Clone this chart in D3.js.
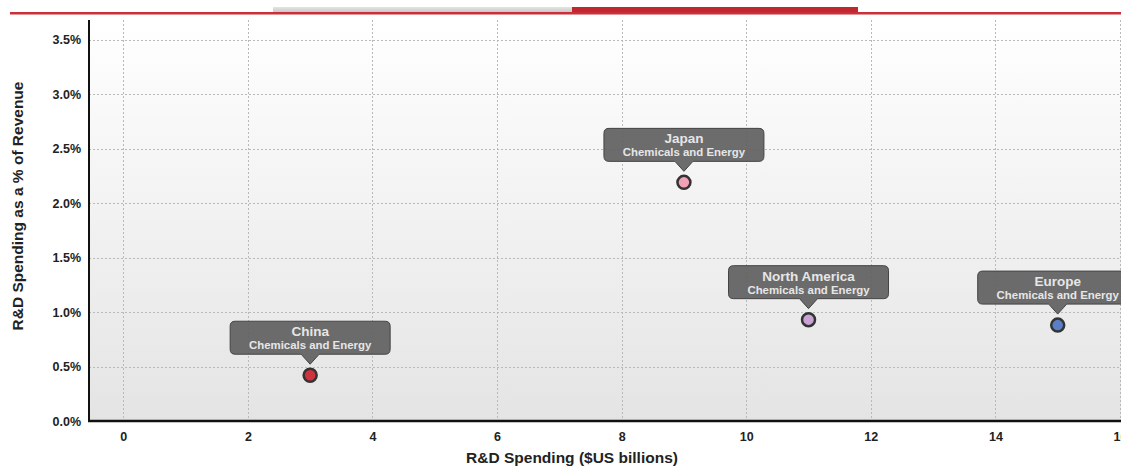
<!DOCTYPE html>
<html>
<head>
<meta charset="utf-8">
<script src="https://cdn.jsdelivr.net/npm/d3@7"></script>
<style>
  html, body { margin: 0; padding: 0; background: #fff; overflow: hidden; }
  svg { display: block; font-family: "Liberation Sans", Arial, sans-serif; }
</style>
</head>
<body>
<svg id="chart" width="1121" height="466"></svg>
<script>
// Regional R&D spending, chemicals and energy sector
const regions   = ["China", "Japan", "North America", "Europe"];
const sectors   = ["Chemicals and Energy", "Chemicals and Energy", "Chemicals and Energy", "Chemicals and Energy"];
const spending  = [3, 9, 11, 15];            // $US billions
const intensity = [0.42, 2.19, 0.93, 0.88];  // % of revenue
const colors    = ["#d0323d", "#f3a1b6", "#c9a3d3", "#5b7fc6"];
const xTicks    = [0, 2, 4, 6, 8, 10, 12, 14, 16];
const yTicks    = [0, 0.5, 1.0, 1.5, 2.0, 2.5, 3.0, 3.5];

const svg = d3.select("#chart");
const W = 1121, H = 466;
const plot = { left: 89, top: 20, right: 1121, bottom: 421 };

const x = d3.scaleLinear().domain([-0.55, 16]).range([plot.left, 1120]);
const y = d3.scaleLinear().domain([0, 3.68]).range([plot.bottom, plot.top]);

const defs = svg.append("defs");
const bg = defs.append("linearGradient").attr("id", "plotBg")
  .attr("x1", 0).attr("y1", 0).attr("x2", 0).attr("y2", 1);
bg.append("stop").attr("offset", "0%").attr("stop-color", "#ffffff");
bg.append("stop").attr("offset", "100%").attr("stop-color", "#e4e4e4");

const tabGrey = defs.append("linearGradient").attr("id", "tabGrey")
  .attr("x1", 0).attr("y1", 0).attr("x2", 0).attr("y2", 1);
tabGrey.append("stop").attr("offset", "0%").attr("stop-color", "#e4e4e4");
tabGrey.append("stop").attr("offset", "100%").attr("stop-color", "#c4c4c4");

// header strip with tabs
svg.append("rect").attr("x", 273).attr("y", 7).attr("width", 299).attr("height", 6)
  .attr("fill", "url(#tabGrey)");
svg.append("rect").attr("x", 572).attr("y", 7).attr("width", 286).attr("height", 7)
  .attr("fill", "#c0272f");
svg.append("rect").attr("x", 10).attr("y", 12).attr("width", W - 10).attr("height", 2.5)
  .attr("fill", "#c8303a");

// plot background
svg.append("rect")
  .attr("x", plot.left).attr("y", plot.top)
  .attr("width", plot.right - plot.left).attr("height", plot.bottom - plot.top)
  .attr("fill", "url(#plotBg)");

// grid
const grid = svg.append("g").attr("stroke", "#b9b9b9").attr("stroke-width", 1)
  .attr("stroke-dasharray", "2,2").attr("shape-rendering", "crispEdges");
grid.selectAll("line.h").data(yTicks.filter(d => d > 0)).join("line")
  .attr("class", "h")
  .attr("x1", plot.left).attr("x2", plot.right)
  .attr("y1", d => Math.round(y(d)) + 0.5).attr("y2", d => Math.round(y(d)) + 0.5);
grid.selectAll("line.v").data(xTicks).join("line")
  .attr("class", "v")
  .attr("x1", d => Math.round(x(d)) + 0.5).attr("x2", d => Math.round(x(d)) + 0.5)
  .attr("y1", plot.top).attr("y2", plot.bottom);

// axes
const tickFont = 12.5;
const yAxis = d3.axisLeft(y).tickValues(yTicks).tickSize(0).tickPadding(8)
  .tickFormat(d => d3.format(".1f")(d) + "%");
const gy = svg.append("g").attr("transform", `translate(${plot.left},0)`).call(yAxis);
gy.select(".domain").remove();
gy.selectAll("text").attr("font-size", tickFont).attr("font-weight", "bold").attr("fill", "#222")
  .attr("font-family", "'Liberation Sans', Arial, sans-serif");

const xAxis = d3.axisBottom(x).tickValues(xTicks).tickSize(0).tickPadding(11);
const gx = svg.append("g").attr("transform", `translate(0,${plot.bottom})`).call(xAxis);
gx.select(".domain").remove();
gx.selectAll("text").attr("font-size", tickFont).attr("font-weight", "bold").attr("fill", "#222")
  .attr("font-family", "'Liberation Sans', Arial, sans-serif");

svg.append("line").attr("x1", plot.left).attr("x2", plot.left)
  .attr("y1", plot.top).attr("y2", plot.bottom + 1)
  .attr("stroke", "#111").attr("stroke-width", 2);
svg.append("line").attr("x1", plot.left - 1).attr("x2", plot.right)
  .attr("y1", plot.bottom).attr("y2", plot.bottom)
  .attr("stroke", "#111").attr("stroke-width", 2.5);

// axis titles
svg.append("text").attr("x", 572).attr("y", 463).attr("text-anchor", "middle")
  .attr("font-size", 15.5).attr("font-weight", "bold").attr("fill", "#222")
  .text("R&D Spending ($US billions)");
svg.append("text").attr("transform", "translate(23,206) rotate(-90)")
  .attr("text-anchor", "middle")
  .attr("font-size", 15.5).attr("font-weight", "bold").attr("fill", "#222")
  .text("R&D Spending as a % of Revenue");

// data points
const data = regions.map((r, i) => ({ region: r, sector: sectors[i], x: spending[i], y: intensity[i], color: colors[i] }));

svg.append("g").selectAll("circle").data(data).join("circle")
  .attr("cx", d => x(d.x)).attr("cy", d => y(d.y)).attr("r", 6.5)
  .attr("fill", d => d.color).attr("stroke", "#333").attr("stroke-width", 2.5);

// callout labels above each point
const bw = 160, bh = 33, gap = 21, arrow = 9;
const callouts = svg.append("g").selectAll("g").data(data).join("g")
  .attr("transform", d => `translate(${x(d.x)},${y(d.y)})`);

callouts.append("path")
  .attr("d", () => {
    const r = 5, l = -bw / 2, t = -gap - bh, rt = bw / 2, b = -gap;
    return `M${l + r},${t} H${rt - r} Q${rt},${t} ${rt},${t + r} V${b - r} Q${rt},${b} ${rt - r},${b}` +
           ` H${arrow} L0,${b + 10} L${-arrow},${b} H${l + r} Q${l},${b} ${l},${b - r} V${t + r} Q${l},${t} ${l + r},${t} Z`;
  })
  .attr("fill", "#5f5f5f").attr("fill-opacity", 0.92)
  .attr("stroke", "#444").attr("stroke-width", 1);

callouts.append("text").attr("y", -gap - bh + 15).attr("text-anchor", "middle")
  .attr("font-size", 13.5).attr("font-weight", "bold").attr("fill", "#e6e6e6")
  .text(d => d.region);
callouts.append("text").attr("y", -gap - bh + 28).attr("text-anchor", "middle")
  .attr("font-size", 11.4).attr("font-weight", "bold").attr("fill", "#e6e6e6")
  .text(d => d.sector);
</script>
</body>
</html>
